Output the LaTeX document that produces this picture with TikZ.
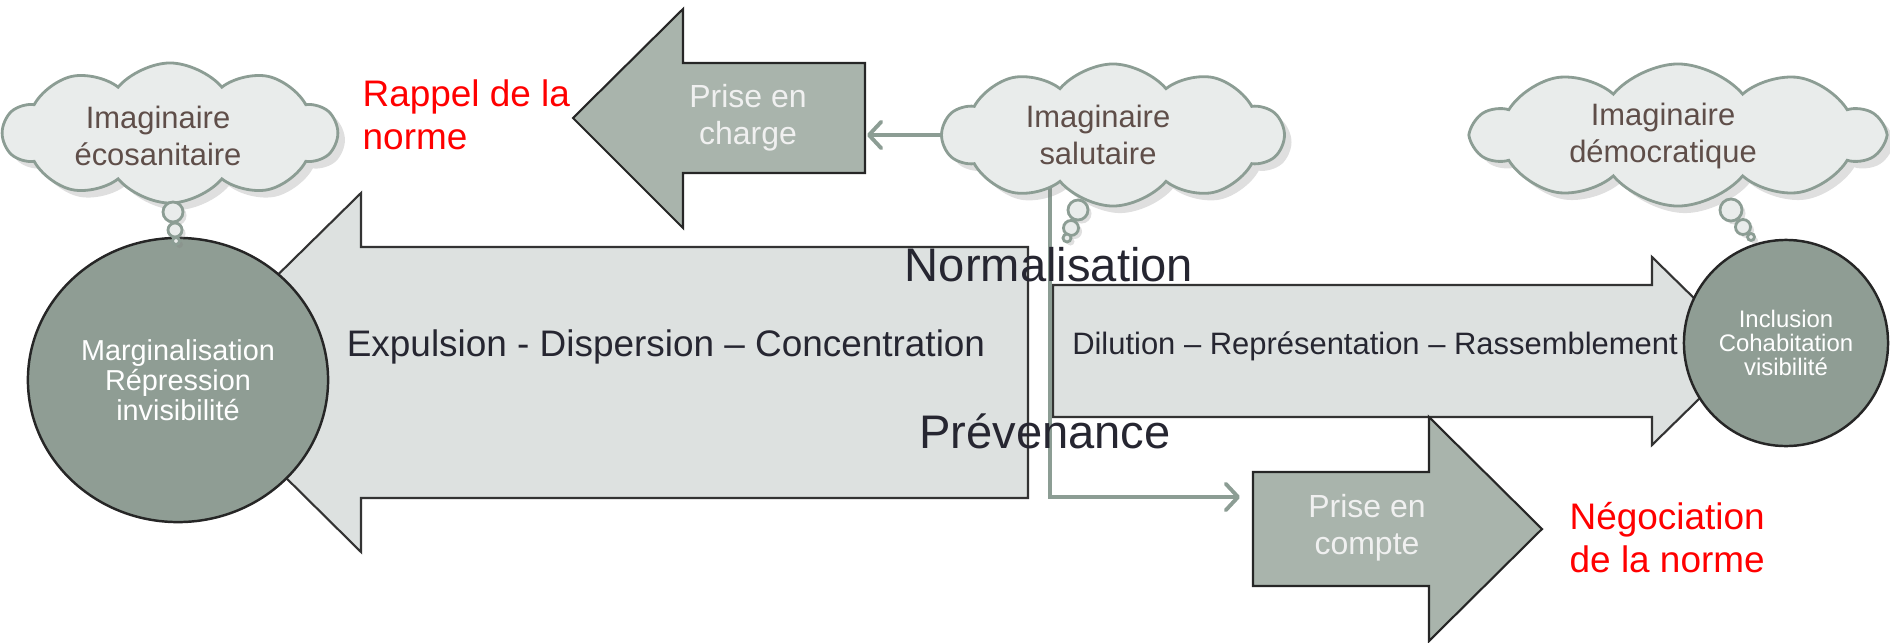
\documentclass[tikz,border=0pt]{standalone}
\usepackage{fontspec}
\setmainfont{Liberation Sans}
\usepackage{tikz}
\usetikzlibrary{positioning,shapes.geometric,shapes.symbols,shadows,arrows.meta}

\definecolor{bigfill}{HTML}{DDE1E0}
\definecolor{smallfill}{HTML}{A9B4AC}
\definecolor{discfill}{HTML}{8F9D94}
\definecolor{cloudfill}{HTML}{E9ECEB}
\definecolor{cloudline}{HTML}{8C9D94}
\definecolor{cloudtext}{HTML}{5F4E49}
\definecolor{darktext}{HTML}{262631}

\begin{document}
\begin{tikzpicture}[x=0.01cm, y=-0.01cm,
  bigarrow/.style={fill=bigfill, draw=black!80, line width=0.6pt},
  smallarrow/.style={fill=smallfill, draw=black!85, line width=0.6pt},
  disc/.style={ellipse, fill=discfill, draw=black!85, line width=0.7pt, text=white, align=center, inner sep=0pt},
  thought/.style={cloud, cloud puffs=10, cloud puff arc=100, cloud ignores aspect, inner sep=0pt,
    fill=cloudfill, draw=cloudline, line width=0.8pt,
    drop shadow={opacity=0.25, shadow xshift=2pt, shadow yshift=-2pt}},
  thoughttxt/.style={text=cloudtext, align=center, inner sep=0pt, font=\fontsize{8.8}{10.5}\selectfont},
  bubble/.style={circle, fill=cloudfill, draw=cloudline, line width=0.8pt, inner sep=0pt,
    drop shadow={opacity=0.25, shadow xshift=1pt, shadow yshift=-1pt}},
  conn/.style={draw=cloudline, line width=1.1pt, -{Straight Barb[length=3.5pt, width=7.5pt, round]}},
  redtxt/.style={text=red, align=left, inner sep=0pt, font=\fontsize{10.5}{12.2}\selectfont},
  whitetxt/.style={text=white!94!black, align=center, inner sep=0pt, font=\fontsize{9.1}{10.5}\selectfont},
  bigtxt/.style={text=darktext, inner sep=0pt, font=\fontsize{13.4}{16}\selectfont}
]
\useasboundingbox (0,0) rectangle (1890,642);

% the four block arrows
\draw[bigarrow] (179,372) -- (361,193) -- (361,247) -- (1028,247) -- (1028,498) -- (361,498) -- (361,552) -- cycle;
\draw[bigarrow] (1053,285) -- (1652,285) -- (1652,257) -- (1748,351) -- (1652,445) -- (1652,417) -- (1053,417) -- cycle;
\draw[smallarrow] (573,118) -- (683,9) -- (683,63) -- (865,63) -- (865,173) -- (683,173) -- (683,228) -- cycle;
\draw[smallarrow] (1253,472) -- (1429,472) -- (1429,417) -- (1542,529) -- (1429,641) -- (1429,586) -- (1253,586) -- cycle;

\coordinate (chargeE) at (867,135);
\coordinate (stem) at (1050,185);
\coordinate (turn) at (1050,497);
\coordinate (compteW) at (1240,497);

\draw[conn] (stem) -- (turn) -- (compteW);

% discs
\node[disc, minimum width=3cm, minimum height=2.84cm, font=\fontsize{8.2}{8.6}\selectfont] (marg) at (178,380) {Marginalisation\\Répression\\invisibilité};
\node[disc, minimum width=2.04cm, minimum height=2.06cm, font=\fontsize{6.8}{6.9}\selectfont] (incl) at (1786,343) {Inclusion\\Cohabitation\\visibilité};

% clouds and their bubbles
\node[thought, minimum width=3.33cm, minimum height=1.4cm] (eco) at (170,133) {};
\node[thought, minimum width=3.4cm, minimum height=1.42cm] (salut) at (1113,135) {};
\node[thought, minimum width=4.1cm, minimum height=1.42cm] (demo) at (1678,135) {};

\foreach \x/\y/\d [count=\i] in {173/212/0.2cm, 175/230/0.14cm, 176/241/0.07cm,
    1078/210/0.2cm, 1071/228/0.15cm, 1067/238/0.08cm,
    1731/210/0.22cm, 1743/227/0.15cm, 1751/237/0.07cm}
  \node[bubble, minimum size=\d] (bub\i) at (\x,\y) {};

\node[thoughttxt] (ecotxt) at (158,136) {Imaginaire\\écosanitaire};
\node[thoughttxt] (saluttxt) at (1098,135) {Imaginaire\\salutaire};
\node[thoughttxt] (demotxt) at (1663,136) {Imaginaire\\démocratique};

\draw[conn] (salut.west) -- (chargeE);

% texts
\node[whitetxt] (charge) at (748,118) {Prise en\\charge};
\node[whitetxt] (compte) at (1367,528) {Prise en\\compte};
\node[redtxt, anchor=west] (rappel) at (362,115) {Rappel de la\\norme};
\node[redtxt, anchor=west] (nego) at (1569,538) {Négociation\\de la norme};
\node[text=darktext, inner sep=0pt, font=\fontsize{10.5}{12}\selectfont] (expul) at (666,347) {Expulsion - Dispersion – Concentration};
\node[text=darktext, inner sep=0pt, font=\fontsize{8.8}{10}\selectfont] (dilu) at (1375,346) {Dilution – Représentation – Rassemblement};
\node[bigtxt] (norma) at (1049,265) {Normalisation};
\node[bigtxt] (preve) at (1045,431) {Prévenance};
\end{tikzpicture}
\end{document}
